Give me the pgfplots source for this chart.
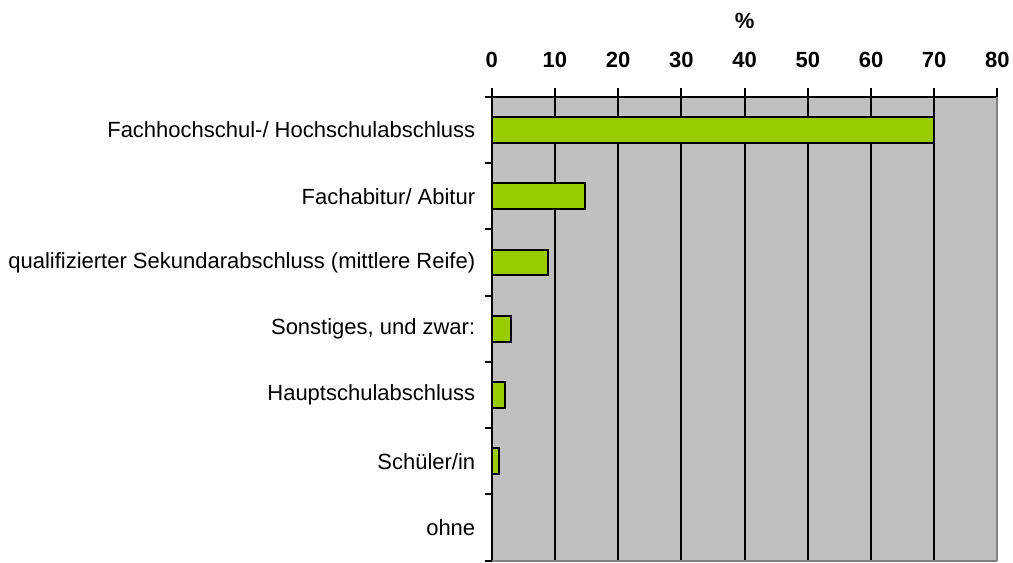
\documentclass[border=0pt]{standalone}
\usepackage{fontspec}
\setmainfont{Liberation Sans}
\usepackage{pgfplots}
\pgfplotsset{compat=1.18}
\definecolor{plotgray}{HTML}{C0C0C0}
\definecolor{bargreen}{HTML}{99CC00}
\definecolor{edgegray}{HTML}{808080}
\begin{document}
\begin{tikzpicture}
\begin{axis}[
  name=ax,
  scale only axis,
  width=506pt, height=464pt,
  xbar, bar width=0.39,
  xmin=0, xmax=80,
  ymin=-0.5, ymax=6.5,
  y dir=reverse,
  axis x line*=top,
  axis y line*=left,
  axis line style={black, line width=2pt},
  axis background/.style={fill=plotgray},
  xtick={0,10,...,80},
  xtick align=center,
  major tick length=17pt,
  major x tick style={black, line width=2pt},
  xmajorgrids,
  grid style={black, line width=2pt},
  ytick={0,...,6},
  yticklabels={Fachhochschul-/ Hochschulabschluss, Fachabitur/ Abitur, qualifizierter Sekundarabschluss (mittlere Reife), {Sonstiges, und zwar:}, Hauptschulabschluss, Schüler/in, ohne},
  major y tick style={draw=none},
  minor ytick={-0.5,0.5,...,6.5},
  minor y tick style={black, line width=2pt},
  ytick align=outside,
  minor tick length=7pt,
  /pgf/number format/assume math mode=true,
  xticklabel style={font=\fontsize{22}{26}\selectfont\bfseries, yshift=17pt},
  yticklabel style={font=\fontsize{22}{26}\selectfont, xshift=4pt},
  xlabel={\%},
  xlabel style={font=\fontsize{22}{26}\selectfont\bfseries, yshift=17pt},
  clip=false,
]
\addplot[fill=bargreen, draw=black, line width=2pt] coordinates {
  (70.0,0) (14.7,1) (8.9,2) (3.1,3) (2.1,4) (1.2,5) (0,6)
};
\draw[edgegray, line width=2pt] (rel axis cs:1,0) -- (rel axis cs:1,1);
\draw[edgegray, line width=2pt] (rel axis cs:0,0) -- (rel axis cs:1,0);
\end{axis}
\useasboundingbox ([shift={(-492pt,-2pt)}]ax.south west) rectangle ([shift={(15pt,97pt)}]ax.north east);
\end{tikzpicture}
\end{document}
